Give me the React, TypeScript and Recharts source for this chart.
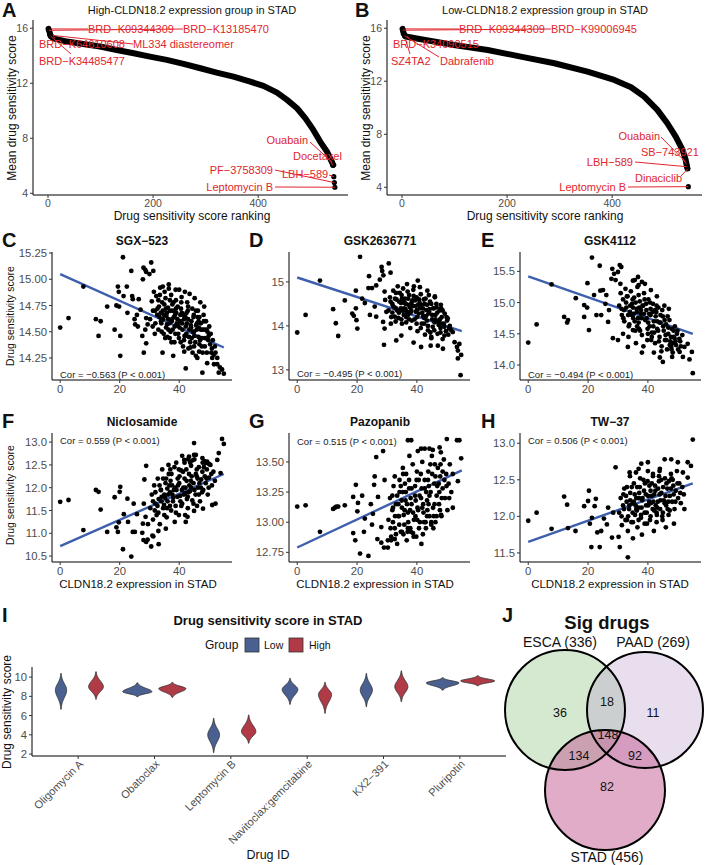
import React from 'react';
import { ComposedChart, Line, Scatter, ScatterChart, XAxis, YAxis, BarChart, Bar } from 'recharts';

const FONT = '"Liberation Sans", Arial, Helvetica, sans-serif';
const RED = '#e1262c';
const BLUE = '#3d5fae';
const TICK_GREY = '#4d4d4d';

// ---------- A / B : ranked mean drug sensitivity ----------
const rankA = [1, 3, 5, 10, 36, 67, 99, 131, 163, 194, 226, 258, 290, 321, 353, 385, 410, 436, 455, 474, 490, 505, 518, 531, 540, 543];
const scoreA = [15.95, 15.72, 15.44, 15.27, 15.03, 14.86, 14.67, 14.42, 14.18, 13.94, 13.7, 13.41, 13.09, 12.78, 12.48, 12.12, 11.81, 11.32, 10.79, 10.18, 9.45, 8.61, 7.76, 7.03, 6.3, 6.06];
const labelNamesA = ['BRD−K09344309', 'BRD−K13185470', 'BRD−K64610608', 'ML334 diastereomer', 'BRD−K34485477', 'Ouabain', 'Docetaxel', 'LBH−589', 'PF−3758309', 'Leptomycin B'];
const labelRanksA = [1, 2, 3, 4, 5, 541, 542, 544, 545, 546];
const labelScoresA = [15.95, 15.85, 15.6, 15.5, 15.42, 6.25, 6.04, 5.21, 4.78, 4.44];

const rankB = [1, 3, 7, 36, 99, 163, 226, 290, 353, 404, 436, 461, 486, 505, 521, 534, 540, 543];
const scoreB = [15.95, 15.62, 15.37, 15.17, 14.74, 14.36, 13.86, 13.36, 12.73, 12.1, 11.55, 10.84, 9.84, 8.83, 7.82, 6.82, 6.06, 5.43];
const labelNamesB = ['BRD−K09344309', 'BRD−K99006945', 'BRD−K34090515', 'SZ4TA2', 'Dabrafenib', 'Ouabain', 'SB−743921', 'LBH−589', 'Dinaciclib', 'Leptomycin B'];
const labelRanksB = [1, 2, 3, 4, 5, 541, 542, 543, 544, 545];
const labelScoresB = [15.95, 15.85, 15.62, 15.5, 15.42, 5.85, 5.7, 5.55, 5.4, 4.05];

// label placement (chart pixels), kept apart from the data
const labelLayoutA: Record<string, any> = {
  'BRD−K09344309': { tx: 88, ty: 29, anchor: 'start', sx: 88, sy: 29 },
  'BRD−K13185470': { tx: 183, ty: 29, anchor: 'start', sx: 183, sy: 29 },
  'BRD−K64610608': { tx: 39, ty: 44, anchor: 'start', sx: 55, sy: 38 },
  'ML334 diastereomer': { tx: 133, ty: 44, anchor: 'start', sx: 133, sy: 44 },
  'BRD−K34485477': { tx: 39, ty: 61, anchor: 'start', sx: 71, sy: 54 },
  Ouabain: { tx: 308, ty: 140, anchor: 'end', sx: 310, sy: 142 },
  Docetaxel: { tx: 293, ty: 156, anchor: 'start', sx: 330, sy: 160 },
  'LBH−589': { tx: 282, ty: 174, anchor: 'start', sx: 329, sy: 175 },
  'PF−3758309': { tx: 273, ty: 170, anchor: 'end', sx: 275, sy: 170 },
  'Leptomycin B': { tx: 273, ty: 187, anchor: 'end', sx: 275, sy: 187 },
};
const labelLayoutB: Record<string, any> = {
  'BRD−K09344309': { tx: 105, ty: 29, anchor: 'start', sx: 105, sy: 29 },
  'BRD−K99006945': { tx: 197, ty: 29, anchor: 'start', sx: 197, sy: 29 },
  'BRD−K34090515': { tx: 39, ty: 44, anchor: 'start', sx: 55, sy: 38 },
  SZ4TA2: { tx: 37, ty: 61, anchor: 'start', sx: 56, sy: 54 },
  Dabrafenib: { tx: 86, ty: 61, anchor: 'start', sx: 85, sy: 57 },
  Ouabain: { tx: 306, ty: 136, anchor: 'end', sx: 307, sy: 137 },
  'SB−743921': { tx: 287, ty: 152, anchor: 'start', sx: 328, sy: 158 },
  'LBH−589': { tx: 279, ty: 162, anchor: 'end', sx: 281, sy: 162 },
  Dinaciclib: { tx: 281, ty: 178, anchor: 'start', sx: 327, sy: 176 },
  'Leptomycin B': { tx: 272, ty: 187, anchor: 'end', sx: 274, sy: 187 },
};

// ---------- C - H : correlation scatter ----------
type Pt = [number, number];
const ptsC: Pt[] = [
  [0, 14.54], [2.8, 14.63], [7.8, 14.93], [12, 14.62], [12.9, 14.46], [13.6, 14.6], [15.8, 14.74], [18.3, 14.52], [19.4, 14.93], [19.7, 14.88],
  [18.9, 14.75], [19.8, 14.74], [20.2, 14.46], [20.2, 14.27], [21.1, 15.21], [22.4, 14.93], [21.3, 14.84], [22.6, 14.68], [23.9, 15.08], [24.2, 14.84],
  [24.4, 14.81], [25, 14.62], [25.2, 14.57], [25.8, 14.66], [26.1, 14.55], [26.4, 14.81], [27, 14.71], [27.6, 14.46], [27.8, 15.0], [28, 15.11],
  [28.6, 15.09], [28.9, 15.07], [28.1, 14.3], [30, 15.05], [30.6, 15.16], [31.3, 15.08], [28.9, 14.63], [29.4, 14.57], [28.9, 14.39], [28.6, 14.52],
  [34.4, 14.3], [38, 14.27], [41.7, 14.31], [42.2, 14.15], [47.8, 14.11], [49.4, 14.2], [51.1, 14.25], [52.2, 14.3], [52.8, 14.19], [53.3, 14.11],
  [54.4, 14.14], [55, 14.1], [53.7, 14.16], [52.8, 14.25], [51.7, 14.19], [46.7, 14.31], [46.1, 14.25], [45, 14.36], [45.6, 14.27],
  [30.2, 14.62], [30.8, 14.79], [31.1, 14.55], [31.5, 14.88], [31.9, 14.7], [32.3, 14.84], [32.6, 14.66], [33, 14.52], [33.2, 14.74], [33.6, 14.92],
  [33.9, 14.6], [34.3, 14.78], [34.5, 14.7], [34.8, 14.48], [35.1, 14.88], [35.4, 14.82], [35.7, 14.65], [35.9, 14.57], [36.2, 14.73], [36.5, 14.91],
  [36.8, 14.44], [37, 14.7], [37.3, 14.85], [37.6, 14.62], [37.8, 14.52], [38.1, 14.78], [38.4, 14.4], [38.6, 14.66], [38.9, 14.8], [39.2, 14.58],
  [39.5, 14.74], [39.7, 14.48], [40, 14.9], [40.3, 14.6], [40.6, 14.72], [40.8, 14.83], [41.1, 14.52], [41.4, 14.66], [41.6, 14.42], [41.9, 14.88],
  [42.2, 14.55], [42.5, 14.68], [42.7, 14.78], [43, 14.62], [43.3, 14.45], [43.5, 14.86], [43.8, 14.35], [44.1, 14.6], [44.4, 14.72], [44.6, 14.5],
  [44.9, 14.66], [45.2, 14.82], [45.4, 14.4], [45.7, 14.56], [46, 14.58], [46.3, 14.7], [46.5, 14.45], [46.8, 14.64], [47.1, 14.78], [47.3, 14.52],
  [47.6, 14.36], [47.9, 14.52], [48.2, 14.66], [48.4, 14.74], [48.7, 14.44], [49, 14.6], [49.3, 14.3], [49.5, 14.5], [49.8, 14.42], [50.1, 14.55],
  [50.4, 14.38], [50.6, 14.48], [51, 14.34], [51.3, 14.42], [51.6, 14.28], [52, 14.36], [38.5, 14.55], [36, 14.45], [34, 14.58], [42, 14.46],
  [45, 14.5], [40.5, 14.4], [47, 14.42], [39, 14.68], [43, 14.74], [35.5, 14.72], [37.5, 14.6], [41, 14.58], [44, 14.54], [46.5, 14.6],
  [48.5, 14.52], [34.5, 14.93], [36.5, 14.95], [38.8, 14.9], [33.5, 14.85],
  [32, 14.58], [32.7, 14.72], [33.4, 14.64], [34.1, 14.5], [34.9, 14.66], [35.6, 14.54], [36.3, 14.62], [37.1, 14.5], [37.9, 14.7], [38.7, 14.48],
  [39.4, 14.62], [40.1, 14.54], [40.9, 14.68], [41.8, 14.46], [42.6, 14.58], [43.4, 14.52], [44.2, 14.44], [45.1, 14.46], [45.9, 14.52], [46.8, 14.38],
  [47.7, 14.44], [48.6, 14.36], [31.2, 14.7], [33, 14.8], [35, 14.76], [36.9, 14.8], [38.9, 14.72], [40.7, 14.78], [42.9, 14.7], [44.8, 14.64],
  [46.6, 14.54], [48.3, 14.6], [39.9, 14.44], [41.3, 14.36], [43.7, 14.4], [36.4, 14.52], [34.6, 14.62], [37.4, 14.4], [44.5, 14.3], [47.9, 14.3],
  [49.9, 14.46], [50.8, 14.3], [31.8, 14.48], [33.8, 14.68], [35.3, 14.44], [38.2, 14.64], [42.1, 14.64], [43.9, 14.56], [46.2, 14.64], [45.6, 14.7],
  [39.6, 14.56], [41.6, 14.62], [37.7, 14.76], [35.9, 14.68], [40.4, 14.66], [43.1, 14.34], [47.3, 14.58], [49.2, 14.52], [42.4, 14.48], [36.7, 14.58],
];
const fitC = [{ x: 0, y: 15.05 }, { x: 55, y: 14.35 }];

const ptsD: Pt[] = [
  [0, 13.85], [2.8, 14.25], [7.6, 15.03], [12, 14.38], [12.9, 14.06], [13.7, 13.77], [15.9, 14.58], [18.4, 14.28], [18.9, 14.23], [19.6, 14.8],
  [19.6, 14.4], [19.8, 14.13], [20.1, 13.94], [21, 15.57], [21.7, 14.62], [22.6, 14.52], [24, 15.13], [23.8, 14.86], [24.3, 14.25], [25, 14.86],
  [25.9, 14.44], [26.4, 14.92], [26.4, 14.21], [27.6, 15.05], [28.2, 15.34], [28.4, 15.25], [28.8, 15.15], [29, 13.57], [29.2, 14.78], [29.4, 14.59],
  [28.7, 14.09], [29.2, 13.94], [30.6, 15.42], [31.2, 15.21], [29.8, 14.32], [31.3, 14.05], [32.6, 14.21], [33.1, 13.67], [34.8, 13.78], [38.9, 13.62],
  [40.3, 15.03], [41.4, 13.52], [44.6, 13.55], [46, 14.67], [48.1, 14.4], [48.7, 13.48], [50.3, 14.17], [52, 13.86], [52.6, 13.63], [53.4, 13.52],
  [53.7, 13.44], [54.2, 13.59], [53.7, 13.26], [54.8, 13.34], [54.6, 12.88], [47, 13.55], [49.2, 13.78], [50.9, 13.94], [44.8, 13.75],
  [30.5, 14.35], [31, 14.65], [31.4, 14.2], [31.8, 14.5], [32.1, 14.8], [32.5, 14.42], [32.9, 14.1], [33.2, 14.6], [33.6, 14.9], [34, 14.3],
  [34.3, 14.75], [34.7, 14.52], [35, 14.05], [35.4, 14.85], [35.7, 14.4], [36, 14.62], [36.4, 14.2], [36.7, 14.95], [37.1, 14.48], [37.4, 14.7],
  [37.8, 13.95], [38.1, 14.35], [38.5, 14.58], [38.8, 14.82], [39.2, 14.15], [39.5, 14.45], [39.9, 14.65], [40.2, 13.88], [40.6, 14.28], [40.9, 14.52],
  [41.3, 14.72], [41.6, 14.05], [42, 14.4], [42.3, 14.6], [42.7, 13.8], [43, 14.22], [43.4, 14.48], [43.7, 14], [44.1, 14.32], [44.4, 14.55],
  [44.8, 13.72], [45.1, 14.15], [45.5, 14.4], [45.8, 13.9], [46.2, 14.25], [46.5, 14.5], [46.9, 13.82], [47.2, 14.1], [47.6, 14.35], [47.9, 13.95],
  [48.3, 14.2], [48.6, 13.7], [49, 14.05], [49.3, 14.28], [49.7, 13.88], [50.1, 14.12], [50.5, 13.8], [51, 14], [51.5, 13.9], [36.2, 14.38],
  [38.3, 14.12], [40, 14.36], [42.5, 14.18], [44, 14.7], [34.8, 14.15], [37, 14.25], [39, 14.9], [41, 14.88], [43.5, 14.8], [35.5, 14.55],
  [46, 14.65], [48, 14.48], [33, 14.4], [45.3, 13.98],
  [32, 14.45], [32.7, 14.62], [33.4, 14.35], [34.1, 14.55], [34.9, 14.7], [35.6, 14.25], [36.3, 14.5], [37.1, 14.62], [37.9, 14.3], [38.7, 14.45],
  [39.4, 14.58], [40.1, 14.2], [40.9, 14.4], [41.8, 14.3], [42.6, 14.5], [43.4, 14.12], [44.2, 14.38], [45.1, 14.25], [45.9, 14.08], [46.8, 14.3],
  [47.7, 14.15], [48.6, 14.35], [31.2, 14.55], [33, 14.75], [35, 14.62], [36.9, 14.78], [38.9, 14.68], [40.7, 14.6], [42.9, 14.62], [44.8, 14.5],
  [46.6, 14.42], [48.3, 14.05], [39.9, 14.05], [41.3, 13.95], [43.7, 13.9], [36.4, 14.08], [34.6, 14.4], [37.4, 14.15], [44.5, 13.85], [47.9, 13.85],
  [49.9, 14.2], [50.8, 13.95], [31.8, 14.3], [33.8, 14.18], [35.3, 14.35], [38.2, 14.52], [42.1, 14.22], [43.9, 14.28], [46.2, 14.15], [45.6, 14.4],
  [39.6, 14.32], [41.6, 14.48], [37.7, 14.42], [35.9, 14.52], [40.4, 14.48], [43.1, 14.36], [47.3, 14.02], [49.2, 13.98], [42.4, 14.05], [36.7, 14.32],
];
const fitD = [{ x: 0, y: 15.1 }, { x: 55, y: 13.88 }];

const ptsE: Pt[] = [
  [0, 14.36], [2.8, 14.65], [7.8, 15.29], [12, 14.77], [13.3, 14.72], [13, 14.68], [15.9, 15.07], [18.7, 14.96], [18.7, 14.77], [19.7, 14.92],
  [19.8, 15.31], [20.3, 14.56], [21.3, 15.72], [22, 15.12], [22.8, 14.8], [23.9, 15.59], [24.1, 15.19], [24.4, 14.8], [25, 15.2], [25.8, 14.98],
  [26.1, 15.12], [26.7, 14.69], [27, 14.88], [27.8, 15.38], [28.1, 15.54], [28.7, 15.46], [29.2, 15.36], [30, 15.49], [30.6, 15.6], [31.1, 15.57],
  [30.8, 15.3], [28.3, 14.43], [30, 14.4], [31.7, 14.5], [33.3, 14.29], [35, 14.56], [38, 14.2], [41.1, 14.4], [45, 14.05], [47.8, 14.29],
  [48.1, 14.13], [50.6, 14.21], [52.2, 14.29], [53.9, 14.09], [54.7, 14.21], [55, 13.87], [53.3, 14.34], [51.7, 14.13], [48.9, 14.43], [36.7, 15.41],
  [36.9, 15.28], [38, 15.33], [35.6, 15.36],
  [30.4, 14.95], [30.9, 15.15], [31.3, 14.8], [31.7, 15.05], [32.1, 14.7], [32.5, 15.22], [32.8, 14.92], [33.2, 15.1], [33.6, 14.62], [34, 14.85],
  [34.3, 15.18], [34.7, 14.98], [35.1, 14.75], [35.4, 15.08], [35.8, 14.55], [36.2, 14.9], [36.5, 15.25], [36.9, 14.68], [37.3, 15.02], [37.6, 14.82],
  [38, 14.48], [38.4, 14.95], [38.7, 15.15], [39.1, 14.72], [39.5, 14.88], [39.8, 14.4], [40.2, 15.05], [40.6, 14.62], [40.9, 14.8], [41.3, 14.52],
  [41.7, 14.98], [42, 14.7], [42.4, 14.35], [42.8, 14.85], [43.1, 14.58], [43.5, 14.92], [43.9, 14.45], [44.2, 14.68], [44.6, 14.3], [45, 14.78],
  [45.3, 14.55], [45.7, 14.4], [46.1, 14.65], [46.4, 14.25], [46.8, 14.5], [47.2, 14.72], [47.5, 14.38], [47.9, 14.58], [48.3, 14.2], [48.6, 14.45],
  [49, 14.62], [49.4, 14.32], [49.7, 14.5], [50.1, 14.25], [50.5, 14.42], [51, 14.3], [51.5, 14.48], [37, 14.58], [39, 15.3], [41, 15.2],
  [43, 15.1], [35, 15.35], [33.5, 14.45], [45.5, 14.95], [40, 14.5], [42, 14.2], [44, 14.12], [36, 14.35], [47, 14.9], [38.5, 14.3],
  [32, 14.88], [32.7, 15], [33.4, 14.8], [34.1, 14.95], [34.9, 15.05], [35.6, 14.7], [36.3, 14.85], [37.1, 14.92], [37.9, 14.75], [38.7, 14.82],
  [39.4, 14.98], [40.1, 14.68], [40.9, 14.9], [41.8, 14.62], [42.6, 14.78], [43.4, 14.55], [44.2, 14.8], [45.1, 14.62], [45.9, 14.48], [46.8, 14.6],
  [47.7, 14.45], [48.6, 14.55], [31.2, 14.9], [33, 15.1], [35, 14.92], [36.9, 15.12], [38.9, 15.05], [40.7, 15], [42.9, 14.95], [44.8, 14.88],
  [46.6, 14.78], [48.3, 14.35], [39.9, 14.58], [41.3, 14.45], [43.7, 14.38], [36.4, 14.62], [34.6, 14.8], [37.4, 14.55], [44.5, 14.22], [47.9, 14.25],
  [49.9, 14.55], [50.8, 14.38], [31.8, 14.75], [33.8, 14.65], [35.3, 14.82], [38.2, 14.95], [42.1, 14.52], [43.9, 14.68], [46.2, 14.4], [45.6, 14.72],
  [39.6, 14.75], [41.6, 14.85], [37.7, 14.88], [35.9, 15], [40.4, 14.82], [43.1, 14.7], [47.3, 14.32], [49.2, 14.38], [42.4, 14.88], [36.7, 14.75],
];
const fitE = [{ x: 0, y: 15.42 }, { x: 55, y: 14.5 }];

const ptsF: Pt[] = [
  [0, 11.69], [2.8, 11.73], [7.8, 11.07], [12, 11.95], [12.9, 11.91], [13.6, 11.52], [15.8, 11.03], [18.3, 11.79], [18.9, 11.13], [19.7, 11.24],
  [20.2, 12.02], [20, 11.91], [19.4, 11.03], [21.1, 10.65], [21.4, 11.42], [22.6, 11.76], [22.8, 11.25], [23.9, 10.49], [24.4, 11.03], [24.7, 11.65],
  [25.1, 11.03], [25.8, 11.42], [27.6, 11.01], [27.8, 11.21], [28, 10.85], [28.9, 12.48], [28.3, 12.18], [28.9, 10.81], [29.4, 10.86], [30.6, 10.71],
  [31.3, 10.93], [33.1, 10.76], [28.1, 11.65], [28.7, 11.36], [45, 12.98], [54.4, 13.07], [55, 12.96], [53.3, 12.76], [52.8, 12.61], [47.8, 12.65],
  [48.9, 12.54], [49.4, 12.57], [50, 12.52], [53.9, 12.32], [51.1, 11.62], [52.2, 11.65], [48, 11.54], [42.8, 11.36], [42.2, 11.25], [45, 11.49],
  [43.3, 12.68], [41.7, 12.61], [45.6, 12.72],
  [30.3, 11.55], [30.8, 11.85], [31.2, 11.3], [31.6, 12.05], [32, 11.65], [32.4, 11.4], [32.8, 12.2], [33.1, 11.75], [33.5, 11.2], [33.9, 11.95],
  [34.3, 12.4], [34.6, 11.55], [35, 11.85], [35.4, 12.1], [35.8, 11.35], [36.1, 11.7], [36.5, 12.3], [36.9, 11.9], [37.3, 11.5], [37.6, 12.05],
  [38, 11.78], [38.4, 12.45], [38.8, 11.6], [39.1, 11.95], [39.5, 12.2], [39.9, 11.4], [40.3, 11.82], [40.6, 12.38], [41, 11.65], [41.4, 12],
  [41.8, 12.55], [42.1, 11.88], [42.5, 12.15], [42.9, 11.55], [43.3, 12.3], [43.6, 11.92], [44, 12.48], [44.4, 11.72], [44.8, 12.1], [45.1, 12.62],
  [45.5, 11.85], [45.9, 12.25], [46.3, 12], [46.6, 12.45], [47, 11.7], [47.4, 12.18], [47.8, 12.35], [48.1, 11.95], [48.5, 12.58], [48.9, 12.1],
  [49.3, 12.4], [49.6, 11.85], [50, 12.22], [50.5, 12.5], [51, 12.05], [51.5, 12.35], [52, 12.15], [29.5, 11.2], [31, 10.95], [33, 11.05],
  [35.5, 11.1], [37, 12.4], [39, 12.55], [41, 12.7], [43, 12.62], [45, 12.72], [36, 11.98], [38.5, 11.25], [40, 12.1], [42, 11.4],
  [44, 12], [46, 11.6], [34, 11.7],
  [32, 11.9], [32.7, 11.6], [33.4, 12.05], [34.1, 11.8], [34.9, 11.62], [35.6, 12.2], [36.3, 11.85], [37.1, 12.15], [37.9, 11.7], [38.7, 12],
  [39.4, 11.8], [40.1, 12.25], [40.9, 11.95], [41.8, 12.2], [42.6, 11.75], [43.4, 12.05], [44.2, 12.25], [45.1, 11.95], [45.9, 12.4], [46.8, 12.1],
  [47.7, 11.9], [48.6, 12.25], [31.2, 11.7], [33, 11.45], [35, 11.4], [36.9, 11.6], [38.9, 11.45], [40.7, 11.6], [42.9, 11.8], [44.8, 11.65],
  [46.6, 11.85], [48.3, 12.45], [39.9, 12.4], [41.3, 12.35], [43.7, 12.55], [36.4, 12.5], [34.6, 12.2], [37.4, 12.3], [44.5, 12.6], [47.9, 12.55],
  [49.9, 12], [50.8, 12.3], [31.8, 11.5], [33.8, 11.95], [35.3, 11.78], [38.2, 11.95], [42.1, 12], [43.9, 12.15], [46.2, 12.2], [45.6, 12.3],
  [39.6, 12.05], [41.6, 11.85], [37.7, 11.85], [35.9, 11.55], [40.4, 11.7], [43.1, 11.9], [47.3, 12], [49.2, 12.2], [42.4, 12.4], [36.7, 12.05],
];
const fitF = [{ x: 0, y: 10.72 }, { x: 55, y: 12.3 }];

const ptsG: Pt[] = [
  [0, 13.13], [2.8, 13.14], [7.6, 12.92], [12, 13.11], [12.6, 13.12], [13.1, 13.13], [13.7, 13.13], [15.9, 13.14], [18.7, 13.21], [18.7, 12.91],
  [19.6, 13.31], [19.4, 12.85], [20.3, 13.16], [20.1, 13.09], [21, 12.74], [21.7, 13.22], [22.3, 12.92], [22.6, 13.03], [23.8, 12.72], [24.6, 13.15],
  [25, 12.98], [25.3, 13.07], [25.7, 13.31], [25.9, 13.38], [26.4, 13.54], [26.8, 12.86], [27, 13.21], [28.1, 12.96], [28.1, 12.83], [28.7, 13.59],
  [29, 12.79], [29.2, 13.35], [30.3, 12.85], [30.3, 12.79], [31.4, 12.85], [32.6, 12.86], [37, 13.68], [38.1, 13.68], [42.6, 13.61], [41.4, 13.61],
  [40.3, 13.59], [44.2, 13.61], [45.3, 13.6], [47.6, 13.62], [50, 13.69], [53.4, 13.68], [54.2, 13.68], [54.8, 13.53], [53.7, 13.34], [52, 13.12],
  [48.1, 13.06], [44.8, 12.98], [38.7, 12.91], [37, 12.95], [35.3, 13.45], [34.2, 13.35], [32.6, 13.38],
  [30.5, 13.02], [31, 13.2], [31.4, 12.88], [31.8, 13.1], [32.2, 13.3], [32.6, 12.95], [33, 13.15], [33.4, 12.82], [33.8, 13.05], [34.2, 13.25],
  [34.6, 12.92], [35, 13.12], [35.4, 13.4], [35.8, 12.98], [36.2, 13.18], [36.6, 12.85], [37, 13.08], [37.4, 13.28], [37.8, 12.95], [38.2, 13.15],
  [38.6, 13.48], [39, 13.02], [39.4, 13.22], [39.8, 12.88], [40.2, 13.12], [40.6, 13.35], [41, 13], [41.4, 13.2], [41.8, 13.5], [42.2, 13.08],
  [42.6, 13.28], [43, 12.95], [43.4, 13.18], [43.8, 13.42], [44.2, 13.05], [44.6, 13.25], [45, 13.55], [45.4, 13.12], [45.8, 13.32], [46.2, 13],
  [46.6, 13.22], [47, 13.45], [47.4, 13.15], [47.8, 13.38], [48.2, 13.05], [48.6, 13.28], [49, 13.52], [49.4, 13.2], [49.8, 13.4], [50.2, 13.1],
  [50.6, 13.32], [51, 13.48], [51.5, 13.25], [52, 13.4], [34, 13.05], [36, 13.32], [38, 12.92], [40, 13.42], [42, 12.9], [44, 13.3],
  [46, 13.48], [48, 13.58], [32, 13], [35.5, 12.9], [39.5, 13.05], [43.5, 13.1], [47.5, 13.25], [41.5, 12.82], [37.5, 13.55], [45.5, 12.95],
  [32, 13.12], [32.7, 13.05], [33.4, 13.22], [34.1, 12.98], [34.9, 13.18], [35.6, 13.06], [36.3, 13.25], [37.1, 13], [37.9, 13.2], [38.7, 13.08],
  [39.4, 13.3], [40.1, 13.02], [40.9, 13.22], [41.8, 13.12], [42.6, 13.35], [43.4, 13.05], [44.2, 13.22], [45.1, 13.4], [45.9, 13.15], [46.8, 13.3],
  [47.7, 13.1], [48.6, 13.42], [31.2, 12.95], [33, 12.9], [35, 12.92], [36.9, 12.92], [38.9, 12.88], [40.7, 12.95], [42.9, 13], [44.8, 13],
  [46.6, 13.05], [48.3, 13.2], [39.9, 13.35], [41.3, 13.4], [43.7, 13.35], [36.4, 13.4], [34.6, 13.3], [37.4, 13.35], [44.5, 13.48], [47.9, 13.48],
  [49.9, 13.3], [50.8, 13.2], [31.8, 13.22], [33.8, 13.15], [35.3, 13.25], [38.2, 13.28], [42.1, 13.15], [43.9, 13.15], [46.2, 13.38], [45.6, 13.05],
  [39.6, 13.18], [41.6, 13.28], [37.7, 13.1], [35.9, 13.1], [40.4, 13.1], [43.1, 13.25], [47.3, 13.32], [49.2, 13.35], [42.4, 13], [36.7, 13.15],
];
const fitG = [{ x: 0, y: 12.79 }, { x: 55, y: 13.43 }];

const ptsH: Pt[] = [
  [0, 11.94], [2.8, 12.05], [7.8, 11.83], [12, 12.27], [13, 12.16], [13.3, 11.84], [15.8, 11.8], [18.7, 12.14], [20, 12.21], [20.3, 12.35],
  [20.6, 11.9], [21.1, 11.58], [21.3, 11.98], [22.2, 12.14], [22.6, 12.24], [23.1, 11.78], [23.9, 11.58], [24.4, 11.8], [25.3, 11.97], [26.3, 11.89],
  [26.7, 12.12], [28, 11.71], [28.4, 12.05], [29.2, 12.67], [30.2, 11.72], [30.6, 11.58], [33.3, 11.44], [33.9, 12.6], [36.1, 12.1], [36.9, 12.65],
  [37.8, 12.72], [40, 12.74], [41.7, 12.58], [43.9, 12.62], [45.6, 12.78], [47.8, 12.78], [48.7, 11.9], [50, 12.74], [52.2, 12.1], [53.3, 12.74],
  [54.4, 12.69], [55, 13.05], [53.3, 12.53], [51.7, 12.6],
  [30.4, 12.05], [30.9, 12.25], [31.3, 11.88], [31.7, 12.15], [32.1, 12.38], [32.5, 11.95], [32.9, 12.2], [33.3, 11.8], [33.7, 12.1], [34.1, 12.32],
  [34.5, 11.92], [34.9, 12.18], [35.3, 12.45], [35.7, 12.02], [36.1, 12.25], [36.5, 11.85], [36.9, 12.12], [37.3, 12.4], [37.7, 11.98], [38.1, 12.22],
  [38.5, 12.5], [38.9, 12.05], [39.3, 12.3], [39.7, 11.9], [40.1, 12.15], [40.5, 12.42], [40.9, 12], [41.3, 12.28], [41.7, 12.55], [42.1, 12.08],
  [42.5, 12.35], [42.9, 11.92], [43.3, 12.2], [43.7, 12.48], [44.1, 12.1], [44.5, 12.32], [44.9, 11.95], [45.3, 12.22], [45.7, 12.52], [46.1, 12.15],
  [46.5, 12.38], [46.9, 12.02], [47.3, 12.28], [47.7, 12.58], [48.1, 12.2], [48.5, 12.42], [48.9, 12.1], [49.3, 12.35], [49.7, 12.62], [50.1, 12.25],
  [50.5, 12.45], [51, 12.18], [51.5, 12.4], [52, 12.3], [34, 12.55], [36, 12.6], [38, 11.75], [40, 12.62], [42, 11.8], [44, 12.65],
  [46, 11.85], [35, 11.7], [39, 12.45], [43, 12.02], [47, 12.48], [41, 12.18], [37, 12.25], [45, 12.05], [33, 12.4],
  [32, 12.1], [32.7, 12.28], [33.4, 12], [34.1, 12.22], [34.9, 12.05], [35.6, 12.3], [36.3, 12.08], [37.1, 12.32], [37.9, 12.12], [38.7, 12.35],
  [39.4, 12.15], [40.1, 12.28], [40.9, 12.35], [41.8, 12.2], [42.6, 12.15], [43.4, 12.38], [44.2, 12.22], [45.1, 12.4], [45.9, 12.28], [46.8, 12.2],
  [47.7, 12.38], [48.6, 12.3], [31.2, 12], [33, 11.95], [35, 11.92], [36.9, 11.95], [38.9, 11.9], [40.7, 11.95], [42.9, 12.05], [44.8, 12],
  [46.6, 12.1], [48.3, 12.5], [39.9, 12.48], [41.3, 12.45], [43.7, 12.55], [36.4, 12.4], [34.6, 12.4], [37.4, 12.52], [44.5, 12.5], [47.9, 12.52],
  [49.9, 12.45], [50.8, 12.32], [31.8, 12.3], [33.8, 12.15], [35.3, 12.2], [38.2, 12.25], [42.1, 12.3], [43.9, 12.3], [46.2, 12.45], [45.6, 12.18],
  [39.6, 12.05], [41.6, 12.1], [37.7, 12.02], [35.9, 12.15], [40.4, 12.2], [43.1, 12.12], [47.3, 12.08], [49.2, 12.2], [42.4, 12.42], [36.7, 12.25],
];
const fitH = [{ x: 0, y: 11.65 }, { x: 55, y: 12.45 }];

// ---------- I : violins ----------
const drugsI = ['Oligomycin A', 'Obatoclax', 'Leptomycin B', 'Navitoclax:gemcitabine', 'KX2−391', 'Pluripotin'];
const lowMin = [6.65, 7.96, 2.16, 7.17, 6.92, 8.65];
const lowMax = [10.38, 9.4, 5.72, 9.86, 10.38, 9.93];
const lowMode = [8.65, 8.48, 4.0, 8.72, 8.65, 9.4];
const highMin = [7.7, 7.9, 3.13, 6.24, 7.44, 9.1];
const highMax = [10.55, 9.45, 6.06, 9.45, 10.65, 10.13];
const highMode = [9.0, 8.8, 4.33, 8.2, 9.0, 9.6];

// ---------- J : venn ----------
const setNames = ['ESCA', 'PAAD', 'STAD'];
const setSizes = [336, 269, 456];
const regionCounts = [36, 18, 11, 148, 134, 92, 82];

const vennCircles = [
  { x: 75, y: 120, r: 60, fill: 'rgb(135,189,121)', op: 0.35 },
  { x: 155, y: 120, r: 58, fill: 'rgb(189,161,206)', op: 0.35 },
  { x: 115, y: 200, r: 60, fill: 'rgb(193,89,145)', op: 0.5 },
];
const vennRegionPos = [
  { x: 70, y: 123 }, { x: 117, y: 112 }, { x: 163, y: 123 }, { x: 118, y: 145 },
  { x: 89, y: 166 }, { x: 145, y: 166 }, { x: 117, y: 197 },
];

// ---------- shared styles ----------
const axisLine = { stroke: '#000', strokeWidth: 1 };
const tickLine = { stroke: '#333', strokeWidth: 1 };
const tickFont = (size: number) => ({ fontSize: size, fill: TICK_GREY, fontFamily: FONT });

const dot = (p: any) => <circle cx={p.cx} cy={p.cy} r={2.4} fill="#000" />;

const makeLabelShape = (layout: Record<string, any>) => (p: any) => {
  const l = layout[p.payload.name];
  return (
    <g>
      <circle cx={p.cx} cy={p.cy} r={2.6} fill="#000" />
      {l && <line x1={p.cx} y1={p.cy} x2={l.sx} y2={l.sy} stroke={RED} strokeWidth={1} />}
      {l && (
        <text x={l.tx} y={l.ty} textAnchor={l.anchor} dominantBaseline="central" fontSize={11} fill={RED} fontFamily={FONT}>
          {p.payload.name}
        </text>
      )}
    </g>
  );
};

function RankPanel({ left, ranks, scores, names, lranks, lscores, layout, yDomain }: any) {
  const curve = ranks.map((r: number, i: number) => ({ x: r, y: scores[i] }));
  const labelled = names.map((n: string, i: number) => ({ x: lranks[i], y: lscores[i], name: n }));
  return (
    <div style={{ position: 'absolute', left, top: 0 }}>
      <ComposedChart width={354} height={225} margin={{ top: 20, right: 6, bottom: 0, left: 0 }}>
        <XAxis type="number" dataKey="x" domain={[-28.6, 571]} ticks={[0, 200, 400]} height={30} tickSize={3} tickMargin={2}
          tick={tickFont(10.5)} axisLine={axisLine} tickLine={tickLine} allowDataOverflow />
        <YAxis type="number" dataKey="y" domain={yDomain} ticks={[4, 8, 12, 16]} width={33} tickSize={3} tickMargin={2}
          tick={tickFont(10.5)} axisLine={axisLine} tickLine={tickLine} allowDataOverflow />
        <Line data={curve} dataKey="y" stroke="#000" strokeWidth={6} strokeLinecap="round" strokeLinejoin="round" dot={false} isAnimationActive={false} />
        <Scatter data={labelled} shape={makeLabelShape(layout)} isAnimationActive={false} />
      </ComposedChart>
    </div>
  );
}

function CorPanel({ left, top, width, yw, right, pts, fit, yDomain, yTicks, digits }: any) {
  const data = pts.map(([x, y]: Pt) => ({ x, y }));
  return (
    <div style={{ position: 'absolute', left, top }}>
      <ComposedChart width={width} height={175} margin={{ top: 22, right, bottom: 0, left: 0 }}>
        <XAxis type="number" dataKey="x" domain={[-2.75, 57.75]} ticks={[0, 20, 40]} height={top > 300 ? 24 : 25} tickSize={3} tickMargin={2}
          tick={tickFont(11.3)} axisLine={axisLine} tickLine={tickLine} allowDataOverflow />
        <YAxis type="number" dataKey="y" domain={yDomain} ticks={yTicks} width={yw} tickSize={3} tickMargin={2}
          tickFormatter={(v: number) => v.toFixed(digits)} tick={tickFont(11.3)} axisLine={axisLine} tickLine={tickLine} allowDataOverflow />
        <Scatter data={data} shape={dot} isAnimationActive={false} />
        <Line data={fit} dataKey="y" stroke={BLUE} strokeWidth={2.4} dot={false} isAnimationActive={false} />
      </ComposedChart>
    </div>
  );
}

const makeViolin = (fill: string, key: string) => (p: any) => {
  const { x, width, payload } = p;
  const [lo, hi] = payload[key];
  const mode = payload[key + 'Mode'];
  const y = Math.min(p.y, p.y + p.height);
  const height = Math.abs(p.height);
  const tm = (hi - mode) / (hi - lo);
  const cx = x + width / 2;
  const half = Math.min(17, 202 / Math.max(height, 1));
  const n = 60;
  const right: string[] = [];
  const leftSide: string[] = [];
  for (let i = 0; i <= n; i++) {
    const t = i / n;
    const u = t < tm ? (tm - t) / tm : (t - tm) / (1 - tm);
    const w = half * Math.exp(-0.5 * Math.pow(u / 0.38, 2));
    const py = y + t * height;
    right.push(`${(cx + w).toFixed(2)},${py.toFixed(2)}`);
    leftSide.unshift(`${(cx - w).toFixed(2)},${py.toFixed(2)}`);
  }
  return <path d={`M${right.join('L')}L${leftSide.join('L')}Z`} fill={fill} stroke="#333" strokeWidth={0.9} />;
};

const RotTick = (p: any) => {
  const x = p.x + 3;
  const y = p.y + 1;
  return (
    <text x={x} y={y} transform={`rotate(-45 ${x} ${y})`} textAnchor="end" dy="0.35em" fontSize={11} fill={TICK_GREY} fontFamily={FONT}>
      {p.payload.value}
    </text>
  );
};

const LOW_FILL = '#4a6091';
const HIGH_FILL = '#b03a46';

function ViolinPanel() {
  const data = drugsI.map((d, i) => ({
    drug: d,
    low: [lowMin[i], lowMax[i]],
    lowMode: lowMode[i],
    high: [highMin[i], highMax[i]],
    highMode: highMode[i],
  }));
  return (
    <div style={{ position: 'absolute', left: 0, top: 660 }}>
      <BarChart width={512} height={205} data={data} margin={{ top: 7, right: 6, bottom: 0, left: 0 }} barSize={30} barGap={5}>
        <XAxis dataKey="drug" interval={0} height={109} padding={{ left: 8, right: 8 }} tickSize={3} tickMargin={2}
          tick={<RotTick />} axisLine={axisLine} tickLine={tickLine} />
        <YAxis type="number" domain={[1.8, 11.05]} ticks={[2, 4, 6, 8, 10]} width={32} tickSize={3} tickMargin={2}
          tick={tickFont(11.3)} axisLine={axisLine} tickLine={tickLine} allowDataOverflow />
        <Bar dataKey="low" shape={makeViolin(LOW_FILL, 'low')} isAnimationActive={false} />
        <Bar dataKey="high" shape={makeViolin(HIGH_FILL, 'high')} isAnimationActive={false} />
      </BarChart>
    </div>
  );
}

function VennPanel() {
  const circles = setNames.map((n, i) => ({ ...vennCircles[i], name: n, size: setSizes[i] }));
  const regions = regionCounts.map((c, i) => ({ ...vennRegionPos[i], count: c }));
  const fillShape = (p: any) => (
    <circle cx={p.cx} cy={p.cy} r={p.payload.r} fill={p.payload.fill} fillOpacity={p.payload.op} />
  );
  const strokeShape = (p: any) => <circle cx={p.cx} cy={p.cy} r={p.payload.r} fill="none" stroke="#000" strokeWidth={2} />;
  const textShape = (p: any) => (
    <text x={p.cx} y={p.cy} textAnchor="middle" dominantBaseline="central" fontSize={12.5} fill="#111" fontFamily={FONT}>
      {p.payload.count}
    </text>
  );
  return (
    <div style={{ position: 'absolute', left: 490, top: 590 }}>
      <ScatterChart width={218} height={275} margin={{ top: 0, right: 0, bottom: 0, left: 0 }}>
        <XAxis type="number" dataKey="x" domain={[0, 218]} hide allowDataOverflow />
        <YAxis type="number" dataKey="y" domain={[0, 275]} reversed hide allowDataOverflow />
        <Scatter data={circles} shape={fillShape} isAnimationActive={false} />
        <Scatter data={circles} shape={strokeShape} isAnimationActive={false} />
        <Scatter data={regions} shape={textShape} isAnimationActive={false} />
      </ScatterChart>
    </div>
  );
}

const T = ({ x, y, size = 11, bold = false, anchor = 'middle', rot = 0, fill = '#111', children }: any) => (
  <text x={x} y={y} fontSize={size} fontWeight={bold ? 'bold' : 'normal'} textAnchor={anchor} dominantBaseline="central"
    fill={fill} fontFamily={FONT} transform={rot ? `rotate(${rot} ${x} ${y})` : undefined}>
    {children}
  </text>
);

const L = ({ x, y, children }: any) => (
  <text x={x} y={y} fontSize={20} fontWeight="bold" fill="#111" fontFamily={FONT}>{children}</text>
);

export default function App() {
  return (
    <div style={{ position: 'absolute', left: 0, top: 0, width: 708, height: 865, background: '#fff', overflow: 'hidden' }}>
      <RankPanel left={0} ranks={rankA} scores={scoreA} names={labelNamesA} lranks={labelRanksA} lscores={labelScoresA}
        layout={labelLayoutA} yDomain={[3.876, 16.6]} />
      <RankPanel left={354} ranks={rankB} scores={scoreB} names={labelNamesB} lranks={labelRanksB} lscores={labelScoresB}
        layout={labelLayoutB} yDomain={[3.42, 16.62]} />

      <CorPanel left={0} top={230} width={240} yw={52} right={8} pts={ptsC} fit={fitC} yDomain={[14.04, 15.26]} yTicks={[14.25, 14.5, 14.75, 15, 15.25]} digits={2} />
      <CorPanel left={240} top={230} width={236} yw={49} right={6} pts={ptsD} fit={fitD} yDomain={[12.77, 15.68]} yTicks={[13, 14, 15]} digits={0} />
      <CorPanel left={476} top={230} width={232} yw={44} right={7} pts={ptsE} fit={fitE} yDomain={[13.76, 15.81]} yTicks={[14, 14.5, 15, 15.5]} digits={1} />
      <CorPanel left={0} top={411} width={240} yw={52} right={8} pts={ptsF} fit={fitF} yDomain={[10.37, 13.2]} yTicks={[10.5, 11, 11.5, 12, 12.5, 13]} digits={1} />
      <CorPanel left={240} top={411} width={236} yw={49} right={6} pts={ptsG} fit={fitG} yDomain={[12.67, 13.74]} yTicks={[12.75, 13, 13.25, 13.5]} digits={2} />
      <CorPanel left={476} top={411} width={232} yw={44} right={7} pts={ptsH} fit={fitH} yDomain={[11.376, 13.14]} yTicks={[11.5, 12, 12.5, 13]} digits={1} />

      <ViolinPanel />
      <VennPanel />

      <svg width={708} height={865} style={{ position: 'absolute', left: 0, top: 0, pointerEvents: 'none' }}>
        <L x={2} y={17}>A</L>
        <L x={355} y={17}>B</L>
        <L x={2} y={247}>C</L>
        <L x={249} y={247}>D</L>
        <L x={481} y={247}>E</L>
        <L x={2} y={428}>F</L>
        <L x={249} y={428}>G</L>
        <L x={481} y={428}>H</L>
        <L x={2} y={622}>I</L>
        <L x={502} y={622}>J</L>

        <T x={192} y={10} size={11}>High-CLDN18.2 expression group in STAD</T>
        <T x={545} y={10} size={11}>Low-CLDN18.2 expression group in STAD</T>
        <T x={12} y={108} size={12} rot={-90}>Mean drug sensitivity score</T>
        <T x={366} y={108} size={12} rot={-90}>Mean drug sensitivity score</T>
        <T x={192} y={216} size={12}>Drug sensitivity score ranking</T>
        <T x={545} y={216} size={12}>Drug sensitivity score ranking</T>

        <T x={142} y={241} size={12} bold>SGX−523</T>
        <T x={380} y={241} size={12} bold>GSK2636771</T>
        <T x={610} y={241} size={12} bold>GSK4112</T>
        <T x={142} y={422} size={12} bold>Niclosamide</T>
        <T x={380} y={422} size={12} bold>Pazopanib</T>
        <T x={610} y={422} size={12} bold>TW−37</T>
        <T x={10} y={316} size={10.5} rot={-90}>Drug sensitivity score</T>
        <T x={10} y={495} size={10.5} rot={-90}>Drug sensitivity score</T>
        <T x={138} y={584} size={11.5}>CLDN18.2 expression in STAD</T>
        <T x={375} y={584} size={11.5}>CLDN18.2 expression in STAD</T>
        <T x={610} y={584} size={11.5}>CLDN18.2 expression in STAD</T>

        <T x={60} y={374} size={9.5} anchor="start" fill="#222">Cor = −0.563 (P &lt; 0.001)</T>
        <T x={297} y={373} size={9.5} anchor="start" fill="#222">Cor = −0.495 (P &lt; 0.001)</T>
        <T x={528} y={374} size={9.5} anchor="start" fill="#222">Cor = −0.494 (P &lt; 0.001)</T>
        <T x={60} y={440} size={9.5} anchor="start" fill="#222">Cor = 0.559 (P &lt; 0.001)</T>
        <T x={297} y={441} size={9.5} anchor="start" fill="#222">Cor = 0.515 (P &lt; 0.001)</T>
        <T x={528} y={440} size={9.5} anchor="start" fill="#222">Cor = 0.506 (P &lt; 0.001)</T>

        <T x={268} y={620} size={13} bold>Drug sensitivity score in STAD</T>
        <T x={205} y={645} size={12} anchor="start">Group</T>
        <rect x={245} y={638} width={14} height={14} fill={LOW_FILL} stroke="#333" strokeWidth={0.8} />
        <T x={264} y={645} size={10.5} anchor="start">Low</T>
        <rect x={289} y={638} width={14} height={14} fill={HIGH_FILL} stroke="#333" strokeWidth={0.8} />
        <T x={309} y={645} size={10.5} anchor="start">High</T>
        <T x={7} y={712} size={12} rot={-90}>Drug sensitivity score</T>
        <T x={268} y={855} size={12.5}>Drug ID</T>

        <T x={607} y={622} size={18.5} bold>Sig drugs</T>
        <T x={560} y={642} size={14}>{`${setNames[0]} (${setSizes[0]})`}</T>
        <T x={653} y={642} size={14}>{`${setNames[1]} (${setSizes[1]})`}</T>
        <T x={607} y={857} size={14}>{`${setNames[2]} (${setSizes[2]})`}</T>
      </svg>
    </div>
  );
}
